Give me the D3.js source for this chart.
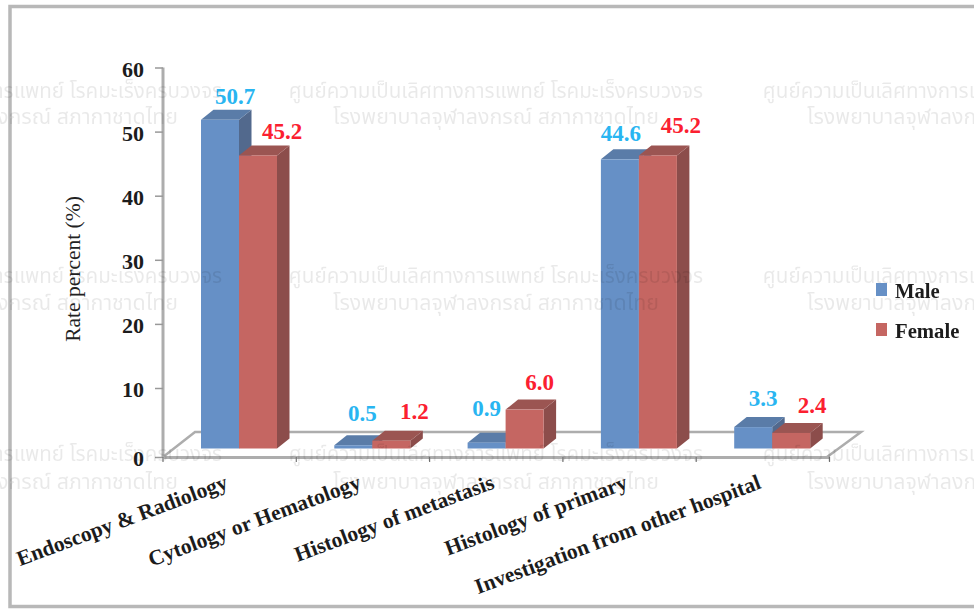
<!DOCTYPE html>
<html><head><meta charset="utf-8">
<style>html,body{margin:0;padding:0;background:#fff}svg{display:block;filter:blur(.6px)}</style>
<script src="https://cdn.jsdelivr.net/npm/d3@7/dist/d3.min.js"></script></head>
<body><svg id="c" width="974" height="611"></svg>
<script>
const categories=["Endoscopy & Radiology","Cytology or Hematology","Histology of metastasis","Histology of primary","Investigation from other hospital"];
const male=[50.7,0.5,0.9,44.6,3.3];
const female=[45.2,1.2,6.0,45.2,2.4];
const yTicks=[0,10,20,30,40,50,60];
const maleLabel=[[15,16],[9,24],[0,27],[1,18],[10,21]];
const femaleLabel=[[24,16],[23,22],[15,20],[23,22],[21,20]];
const wmLine1="ศูนย์ความเป็นเลิศทางการแพทย์ โรคมะเร็งครบวงจร";
const wmLine2="โรงพยาบาลจุฬาลงกรณ์ สภากาชาดไทย";
const wmCols=[15,496,970];
const wmRows=[[98,124],[283,310],[461,489]];

const serif='"Liberation Serif","Times New Roman",serif';
const svg=d3.select("#c");
const W=974;
const blue="#6690c6",blueTop="#5a7ca8",blueSide="#52698d";
const red="#c56662",redTop="#9b5552",redSide="#8c4d4b";
const dx=12.5,dy=10,barW=38;

// frame
svg.append("rect").attr("x",10).attr("y",6.5).attr("width",W+20).attr("height",600).attr("fill","#fff").attr("stroke","#b8b8b8").attr("stroke-width",3.5);

// scales
const yBar=d3.scaleLinear().domain([0,60]).range([448.5,59.5]);
const yAxis=d3.scaleLinear().domain([0,10,60]).range([457,388,67.5]);
const xBand=d3.scaleBand().domain(categories).range([163,829.5]).padding(0);
const xBar=i=>xBand(categories[i])+38;

// floor
const floorY=457,backY=432;
svg.append("path").attr("d",`M163,${floorY}L195,${backY}L861,${backY}L827,${floorY}`).attr("fill","none").attr("stroke","#adadad").attr("stroke-width",2.5);

// y axis
const axis=d3.axisLeft(yAxis).tickValues(yTicks).tickSize(8).tickPadding(11).tickFormat(d3.format("d"));
const ga=svg.append("g").attr("transform","translate(163,0)").call(axis);
ga.select(".domain").attr("stroke","#adadad").attr("stroke-width",3).attr("d","M0,67.5V457");
ga.selectAll(".tick line").attr("stroke","#999").attr("stroke-width",1.5);
ga.selectAll("text").attr("font-family",serif).attr("font-weight","bold").attr("font-size",22).attr("fill","#1c1c1c").attr("dy","0.4em");

// x axis
const xa=d3.axisBottom(xBand).tickValues([]).tickSize(0);
svg.append("g").attr("transform",`translate(0,${floorY})`).call(xa).select(".domain").attr("stroke","#adadad").attr("stroke-width",3);
svg.selectAll(null).data(categories.concat(["end"])).join("line")
 .attr("x1",(d,i)=>163+i*xBand.step()).attr("x2",(d,i)=>163+i*xBand.step()).attr("y1",floorY).attr("y2",floorY+5).attr("stroke","#777").attr("stroke-width",1.2);

// bars
function bar(x,v,f,t,s){
  const y0=yBar(0),y1=yBar(v),g=svg.append("g");
  g.append("path").attr("d",`M${x+barW},${y1}L${x+barW+dx},${y1-dy}V${y0-dy}L${x+barW},${y0}Z`).attr("fill",s);
  g.append("path").attr("d",`M${x},${y1}L${x+dx},${y1-dy}H${x+barW+dx}L${x+barW},${y1}Z`).attr("fill",t);
  g.append("rect").attr("x",x).attr("y",y1).attr("width",barW).attr("height",y0-y1).attr("fill",f);
}
categories.forEach((c,i)=>{
  bar(xBar(i),male[i],blue,blueTop,blueSide);
  bar(xBar(i)+barW,female[i],red,redTop,redSide);
});

// value labels
const vl=svg.append("g").attr("font-family",serif).attr("font-weight","bold").attr("font-size",23).attr("text-anchor","middle");
categories.forEach((c,i)=>{
  vl.append("text").attr("x",xBar(i)+barW/2+maleLabel[i][0]).attr("y",yBar(male[i])-maleLabel[i][1]).attr("fill","#29b5f1").text(male[i].toFixed(1));
  vl.append("text").attr("x",xBar(i)+barW*1.5+femaleLabel[i][0]).attr("y",yBar(female[i])-femaleLabel[i][1]).attr("fill","#fb2030").text(female[i].toFixed(1));
});

// category labels
svg.selectAll(null).data(categories).join("text")
 .attr("transform",(d,i)=>`translate(${xBar(i)+28},${488}) rotate(-20.5)`)
 .attr("text-anchor","end").attr("font-family",serif).attr("font-weight","bold").attr("font-size",21.6).attr("fill","#1c1c1c").text(d=>d);

// y title
svg.append("text").attr("transform","translate(80,269) rotate(-90)").attr("text-anchor","middle").attr("font-family",serif).attr("font-size",21.5).attr("fill","#222").text("Rate percent (%)");

// legend
[["Male",blue,283],["Female",red,323]].forEach(([t,c,y])=>{
  svg.append("rect").attr("x",876).attr("y",y).attr("width",11).attr("height",13).attr("fill",c);
  svg.append("text").attr("x",895).attr("y",y+15).attr("font-family",serif).attr("font-weight","bold").attr("font-size",20.7).attr("fill","#1c1c1c").text(t);
});

// watermark, laid over the chart
const wm=svg.append("g").attr("font-family",'"Noto Sans","Noto Sans Thai",Tahoma,sans-serif').attr("fill","#000").attr("fill-opacity",0.085).attr("text-anchor","middle");
wmRows.forEach(r=>wmCols.forEach(c=>{
  wm.append("text").attr("x",c).attr("y",r[0]).attr("font-size",20.6).text(wmLine1);
  wm.append("text").attr("x",c).attr("y",r[1]).attr("font-size",21.4).text(wmLine2);
}));
</script></body></html>
